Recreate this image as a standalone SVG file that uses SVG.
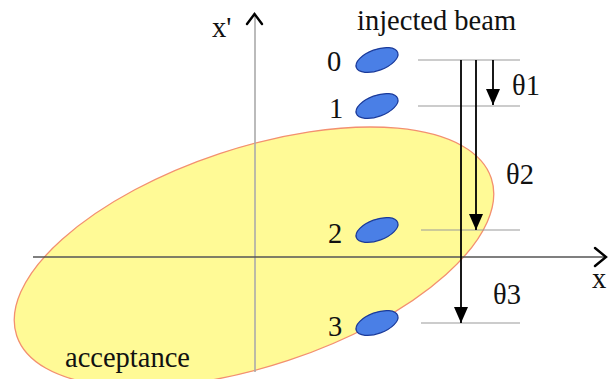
<svg xmlns="http://www.w3.org/2000/svg" width="613" height="379" viewBox="0 0 613 379">
<style>
text{font-family:"Liberation Serif","Times New Roman",serif;font-size:28.5px;fill:#111}
.beam{fill:#4a7fe6;stroke:#1a3a9a;stroke-width:1.2}
.ref{stroke:#999;stroke-width:1.2;fill:none}
.arr{stroke:#000;stroke-width:1.8;fill:none}
.chev{stroke:#000;stroke-width:2.4;fill:none;stroke-linecap:round;stroke-linejoin:miter}
</style>
<defs>
<marker id="ah" viewBox="0 0 16 14" markerWidth="16" markerHeight="14" refX="16" refY="7" orient="auto" markerUnits="userSpaceOnUse">
<path d="M0,0 L16,7 L0,14 Z" fill="#000"/>
</marker>
</defs>
<g id="acceptance">
<ellipse cx="254" cy="257" rx="250" ry="109" transform="rotate(-18.35 254 257)" fill="#fffa96" stroke="#f39070" stroke-width="1.3"/>
<text x="65" y="367">acceptance</text>
</g>
<g id="connectors">
<line x1="255" y1="372" x2="255" y2="15" stroke="#aaa" stroke-width="1.6"/>
<polyline class="chev" points="247,24 254.5,14 262,24"/>
<line x1="33" y1="257" x2="605" y2="257" stroke="#555" stroke-width="1.3"/>
<polyline class="chev" points="595,248 606,257 595,266"/>
<line class="ref" x1="418" y1="60" x2="520" y2="60"/>
<line class="ref" x1="418" y1="106" x2="520" y2="106"/>
<line class="ref" x1="421" y1="230" x2="520" y2="230"/>
<line class="ref" x1="421" y1="323" x2="520" y2="323"/>
<line class="arr" x1="461" y1="60" x2="461" y2="323" marker-end="url(#ah)"/>
<line class="arr" x1="476" y1="60" x2="476" y2="230" marker-end="url(#ah)"/>
<line class="arr" x1="493" y1="60" x2="493" y2="105" marker-end="url(#ah)"/>
</g>
<g id="beam0"><ellipse class="beam" cx="377" cy="60" rx="22" ry="10.5" transform="rotate(-20 377 60)"/><text x="327" y="71">0</text></g>
<g id="beam1"><ellipse class="beam" cx="377" cy="106" rx="22" ry="10.5" transform="rotate(-20 377 106)"/><text x="329" y="118">1</text></g>
<g id="beam2"><ellipse class="beam" cx="377" cy="230" rx="22" ry="10.5" transform="rotate(-20 377 230)"/><text x="328" y="243">2</text></g>
<g id="beam3"><ellipse class="beam" cx="377" cy="323" rx="22" ry="10.5" transform="rotate(-20 377 323)"/><text x="328" y="336">3</text></g>
<g id="labels">
<text x="357" y="30">injected beam</text>
<text x="212" y="37">x'</text>
<text x="592" y="288">x</text>
<text x="512" y="95">θ1</text>
<text x="506" y="184">θ2</text>
<text x="493" y="304">θ3</text>
</g>
</svg>
